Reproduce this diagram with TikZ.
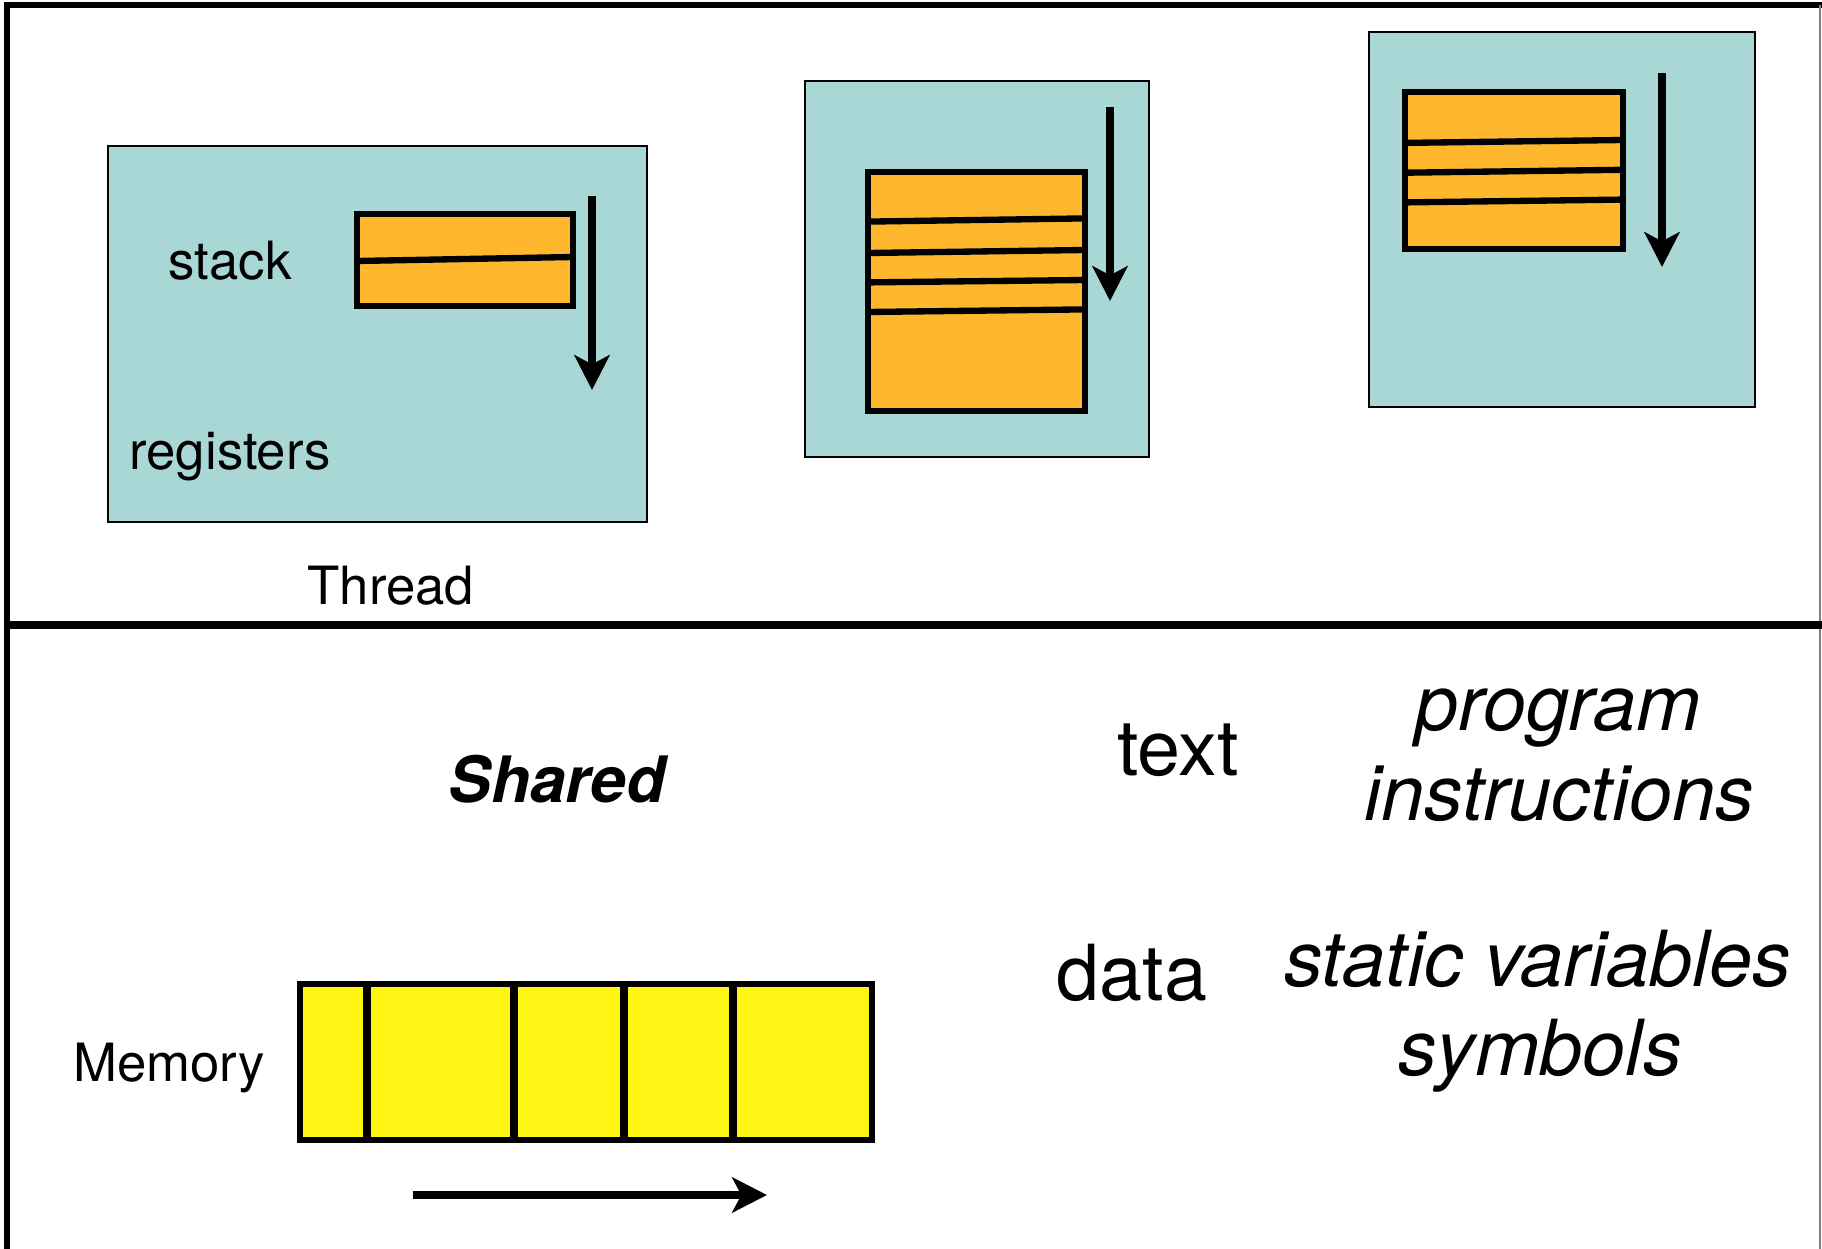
\documentclass[tikz,border=0pt]{standalone}
\usepackage{fontspec}
\setmainfont{TeX Gyre Heros}
\usetikzlibrary{arrows.meta}
\definecolor{threadbg}{RGB}{168,215,214}
\definecolor{stackfill}{RGB}{255,183,46}
\definecolor{memfill}{RGB}{255,245,20}

\begin{document}
\begin{tikzpicture}[x=0.1mm, y=-0.1mm,
        growth/.style={line width=2.1pt, -{Stealth[length=9.9pt, width=10pt, inset=2.6pt]}},
        stackbox/.style={fill=stackfill, draw=black, line width=1.6pt},
        threadbox/.style={fill=threadbg, draw=black, line width=0.6pt},
        lbl/.style={font=\fontsize{15}{18}\selectfont, anchor=base},
        big/.style={font=\fontsize{22}{26}\selectfont, anchor=base},
        bigit/.style={font=\fontsize{22}{26}\selectfont\itshape, anchor=base}]
    \useasboundingbox (0,0) rectangle (1822,1249);

    % frame and divider
    \draw[line width=1.6pt] (7,1249) -- (7,5) -- (1822,5);
    \draw[gray, line width=0.6pt] (1820,5) -- (1820,1249);
    \draw[line width=2.2pt] (7,625) -- (1822,625);

    % first thread
    \filldraw[threadbox] (108,146) rectangle (647,522);
    \filldraw[stackbox] (357,214) rectangle (573,306);
    \draw[line width=1.8pt] (357,261) -- (573,257);
    \coordinate (g1a) at (592,196);
    \coordinate (g1b) at (592,390);
    \draw[growth] (g1a) -- (g1b);
    \node[lbl] (stack) at (230,280) {stack};
    \node[lbl] (regs) at (230,469) {registers};
    \node[lbl] (thread) at (391,604) {Thread};

    % second thread
    \filldraw[threadbox] (805,81) rectangle (1149,457);
    \filldraw[stackbox] (868,172) rectangle (1085,411);
    \foreach \l/\r in {221.6/218.4, 253/250, 282.4/280, 312/309.4}
        \draw[line width=1.8pt] (868,\l) -- (1085,\r);
    \coordinate (g2a) at (1110,107);
    \coordinate (g2b) at (1110,301);
    \draw[growth] (g2a) -- (g2b);

    % third thread
    \filldraw[threadbox] (1369,32) rectangle (1755,407);
    \filldraw[stackbox] (1405,92) rectangle (1623,249);
    \foreach \l/\r in {142.9/140, 172.7/169.8, 202.4/199.6}
        \draw[line width=1.8pt] (1405,\l) -- (1623,\r);
    \coordinate (g3a) at (1662,73);
    \coordinate (g3b) at (1662,267);
    \draw[growth] (g3a) -- (g3b);

    % shared part
    \node[font=\fontsize{18.2}{22}\selectfont\bfseries\itshape, anchor=base] (shared) at (557,802) {Shared};
    \node[big] (text) at (1178,775) {text};
    \node[bigit] (prog) at (1558,730) {program};
    \node[bigit] (instr) at (1559,820) {instructions};
    \node[big] (data) at (1132,1000) {data};
    \node[bigit] (statvar) at (1538,986) {static variables};
    \node[bigit] (symb) at (1540,1075) {symbols};

    % memory cells
    \node[lbl] (memory) at (169,1081) {Memory};
    \filldraw[fill=memfill, line width=1.7pt] (300,984) rectangle (872,1140);
    \foreach \x in {367, 514, 624, 733}
        \draw[line width=2pt] (\x,984) -- (\x,1140);
    \coordinate (ma) at (413,1195);
    \coordinate (mb) at (767,1195);
    \draw[growth] (ma) -- (mb);
\end{tikzpicture}
\end{document}
